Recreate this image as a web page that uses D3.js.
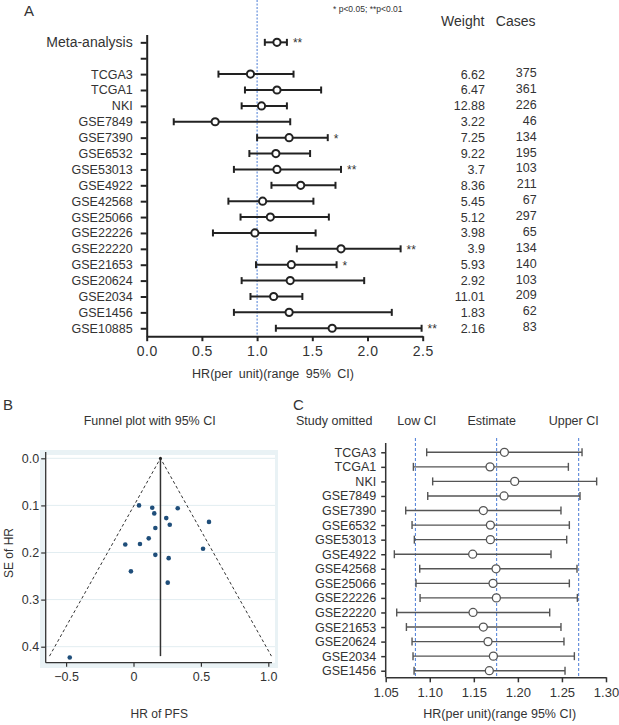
<!DOCTYPE html>
<html><head><meta charset="utf-8">
<script src="https://cdn.jsdelivr.net/npm/d3@7"></script>
<style>
html,body{margin:0;padding:0;background:#fff;}
svg text{font-family:"Liberation Sans",Arial,sans-serif;fill:#333;}
</style></head>
<body>
<svg id="chart" width="619" height="725"></svg>
<script>
// ---------- Panel A data ----------
const studiesA = ["TCGA3","TCGA1","NKI","GSE7849","GSE7390","GSE6532","GSE53013","GSE4922","GSE42568","GSE25066","GSE22226","GSE22220","GSE21653","GSE20624","GSE2034","GSE1456","GSE10885"];
const hrA    = [0.94,1.18,1.04,0.62,1.29,1.17,1.18,1.395,1.05,1.12,0.98,1.76,1.31,1.30,1.15,1.29,1.68];
const lowA   = [0.65,0.89,0.86,0.245,1.00,0.93,0.79,1.13,0.74,0.85,0.60,1.36,0.99,0.86,0.94,0.79,1.17];
const highA  = [1.33,1.58,1.27,1.30,1.64,1.48,1.76,1.71,1.51,1.65,1.53,2.30,1.72,1.97,1.41,2.22,2.49];
const starsA = ["","","","","*","","**","","","","","**","*","","","","**"];
const weights = ["6.62","6.47","12.88","3.22","7.25","9.22","3.7","8.36","5.45","5.12","3.98","3.9","5.93","2.92","11.01","1.83","2.16"];
const cases   = ["375","361","226","46","134","195","103","211","67","297","65","134","140","103","209","62","83"];
const metaA = {label:"Meta-analysis", hr:1.18, low:1.07, high:1.27, star:"**"};
const ticksA = [0,0.5,1.0,1.5,2.0,2.5];

// ---------- Panel B data ----------
const funnelHR = [0.041,0.139,0.328,0.154,0.243,0.560,0.269,0.162,0.113,-0.061,0.048,0.516,0.162,0.261,-0.019,0.254,-0.473];
const funnelSE = [0.100,0.105,0.106,0.117,0.127,0.135,0.141,0.148,0.170,0.183,0.182,0.192,0.205,0.212,0.240,0.264,0.423];
const pooledB = 0.2, maxSEB = 0.42;
const ticksBx = [-0.5,0,0.5,1.0];
const ticksBy = [0,0.1,0.2,0.3,0.4];

// ---------- Panel C data ----------
const studiesC = ["TCGA3","TCGA1","NKI","GSE7849","GSE7390","GSE6532","GSE53013","GSE4922","GSE42568","GSE25066","GSE22226","GSE22220","GSE21653","GSE20624","GSE2034","GSE1456"];
const estC  = [1.1847,1.1684,1.1964,1.1843,1.1608,1.1688,1.1688,1.1487,1.1752,1.1718,1.1756,1.1491,1.1608,1.1661,1.1722,1.1676];
const lowC  = [1.0965,1.0814,1.1033,1.0977,1.0727,1.0799,1.0825,1.0598,1.0886,1.0844,1.0890,1.0625,1.0735,1.0799,1.0810,1.0822];
const highC = [1.2728,1.2573,1.2894,1.2705,1.2489,1.2584,1.2554,1.2376,1.2671,1.2584,1.2675,1.2361,1.2489,1.2523,1.2641,1.2535];
const refC  = [1.0837,1.1759,1.2690];
const headersC = ["Study omitted","Low CI","Estimate","Upper CI"];
const ticksC = [1.05,1.10,1.15,1.20,1.25,1.30];

const svg = d3.select("#chart");
svg.append("rect").attr("width",619).attr("height",725).attr("fill","#fff");
const BLUE = "#4a7cd6";

// ================= PANEL A =================
const gA = svg.append("g");
const rowsA = [metaA.label, " "].concat(studiesA);
const xA = d3.scaleLinear().domain([0,2.5]).range([146.7,422.7]);
const yA = d3.scalePoint().domain(rowsA).range([34.4,336.2]).padding(0.5);

gA.append("text").text("A").attr("x",24).attr("y",15.5).style("font-size","15px");
gA.append("text").text("* p<0.05; **p<0.01").attr("x",333).attr("y",12).style("font-size","8.5px");

// dotted reference line at 1
gA.append("line").attr("x1",xA(1)).attr("x2",xA(1)).attr("y1",0).attr("y2",336)
  .attr("stroke",BLUE).attr("stroke-width",1).attr("stroke-dasharray","2,1.5");

const axL = gA.append("g").attr("transform","translate(146.7,0)")
  .call(d3.axisLeft(yA).tickSize(6).tickSizeOuter(0).tickPadding(8));
axL.select(".domain").attr("stroke","#222").attr("stroke-width",2);
axL.selectAll(".tick line").attr("stroke","#222").attr("stroke-width",2);
axL.selectAll(".tick text").attr("fill","#333")
  .style("font-size",d=>d===metaA.label?"14px":"12.5px");

const axB = gA.append("g").attr("transform","translate(0,336.2)")
  .call(d3.axisBottom(xA).tickValues(ticksA).tickFormat(d3.format(".1f")).tickSize(5).tickSizeOuter(0).tickPadding(5));
axB.select(".domain").attr("stroke","#222").attr("stroke-width",2);
axB.selectAll(".tick line").attr("stroke","#222").attr("stroke-width",2);
axB.selectAll(".tick text").style("font-size","14px").attr("fill","#333").style("letter-spacing","0.5px");

gA.append("text").text("HR(per unit)(range 95% CI)").attr("x",273).attr("y",378)
  .attr("text-anchor","middle").style("font-size","12.5px").style("word-spacing","3px");

const dataA = [{label:metaA.label,hr:metaA.hr,low:metaA.low,high:metaA.high,star:metaA.star}]
  .concat(studiesA.map((s,i)=>({label:s,hr:hrA[i],low:lowA[i],high:highA[i],star:starsA[i]})));
const eA = gA.selectAll(".eb").data(dataA).enter().append("g");
eA.append("line").attr("x1",d=>xA(d.low)).attr("x2",d=>xA(d.high)).attr("y1",d=>yA(d.label)).attr("y2",d=>yA(d.label))
  .attr("stroke","#222").attr("stroke-width",2);
eA.append("line").attr("x1",d=>xA(d.low)).attr("x2",d=>xA(d.low)).attr("y1",d=>yA(d.label)-3.5).attr("y2",d=>yA(d.label)+3.5)
  .attr("stroke","#222").attr("stroke-width",2);
eA.append("line").attr("x1",d=>xA(d.high)).attr("x2",d=>xA(d.high)).attr("y1",d=>yA(d.label)-3.5).attr("y2",d=>yA(d.label)+3.5)
  .attr("stroke","#222").attr("stroke-width",2);
eA.append("circle").attr("cx",d=>xA(d.hr)).attr("cy",d=>yA(d.label)).attr("r",3.6)
  .attr("fill","#fff").attr("stroke","#222").attr("stroke-width",2);
eA.append("text").text(d=>d.star).attr("x",d=>xA(d.high)+6).attr("y",d=>yA(d.label)+5)
  .style("font-size","12px");

// Weight / Cases columns
gA.append("text").text("Weight").attr("x",462.7).attr("y",26).attr("text-anchor","middle").style("font-size","14px");
gA.append("text").text("Cases").attr("x",515.7).attr("y",26).attr("text-anchor","middle").style("font-size","14px");
gA.selectAll(".w").data(studiesA).enter().append("text").text((d,i)=>weights[i])
  .attr("x",485).attr("y",d=>yA(d)+4.5).attr("text-anchor","end").style("font-size","12.5px");
gA.selectAll(".c").data(studiesA).enter().append("text").text((d,i)=>cases[i])
  .attr("x",536.7).attr("y",d=>yA(d)+3).attr("text-anchor","end").style("font-size","12.5px");

// ================= PANEL B =================
const gB = svg.append("g");
const xB = d3.scaleLinear().domain([-0.5,1.0]).range([66.1,268.3]);
const yB = d3.scaleLinear().domain([0,0.4]).range([458.3,646.7]);

gB.append("text").text("B").attr("x",3).attr("y",410).style("font-size","15px");
gB.append("text").text("Funnel plot with 95% CI").attr("x",149.7).attr("y",425).attr("text-anchor","middle").style("font-size","12.5px");

gB.append("rect").attr("x",40).attr("y",450).attr("width",238).attr("height",218).attr("fill","#e9f2f5");
gB.append("rect").attr("x",45.7).attr("y",455).attr("width",229.3).attr("height",207.7).attr("fill","#fff");
gB.selectAll(".grid").data(ticksBy).enter().append("line")
  .attr("x1",45.7).attr("x2",275).attr("y1",d=>yB(d)).attr("y2",d=>yB(d))
  .attr("stroke","#e2edf1").attr("stroke-width",1);

const byAx = gB.append("g").attr("transform","translate(45.7,0)")
  .call(d3.axisLeft(yB).tickValues(ticksBy).tickFormat(d3.format(".1f")).tickSize(4.5).tickSizeOuter(0).tickPadding(2));
byAx.select(".domain").remove();
byAx.selectAll(".tick line").attr("stroke","#333").attr("stroke-width",1.2);
byAx.selectAll(".tick text").style("font-size","12.5px").attr("fill","#333");
gB.append("line").attr("x1",45.7).attr("x2",45.7).attr("y1",452).attr("y2",662.7).attr("stroke","#333").attr("stroke-width",1.3);

const bxAx = gB.append("g").attr("transform","translate(0,662.7)")
  .call(d3.axisBottom(xB).tickValues(ticksBx).tickFormat(d=>d===0?"0":d3.format(".1f")(d)).tickSize(4).tickSizeOuter(0).tickPadding(5));
bxAx.select(".domain").remove();
bxAx.selectAll(".tick line").attr("stroke","#333").attr("stroke-width",1.2);
bxAx.selectAll(".tick text").style("font-size","12.5px").attr("fill","#333");
gB.append("line").attr("x1",45.7).attr("x2",272).attr("y1",662.7).attr("y2",662.7).attr("stroke","#333").attr("stroke-width",1.3);

const funnel = [[pooledB-1.96*maxSEB,maxSEB],[pooledB,0],[pooledB+1.96*maxSEB,maxSEB]];
gB.append("path").attr("d",d3.line().x(d=>xB(d[0])).y(d=>yB(d[1]))(funnel))
  .attr("fill","none").attr("stroke","#333").attr("stroke-width",1).attr("stroke-dasharray","3,2.5");
gB.append("line").attr("x1",xB(pooledB)).attr("x2",xB(pooledB)).attr("y1",yB(0)).attr("y2",yB(maxSEB))
  .attr("stroke","#333").attr("stroke-width",1.5);
gB.append("circle").attr("cx",xB(pooledB)).attr("cy",yB(0)).attr("r",1.5).attr("fill","#222");

gB.selectAll(".pt").data(funnelHR).enter().append("circle")
  .attr("cx",d=>xB(d)).attr("cy",(d,i)=>yB(funnelSE[i])).attr("r",2.3).attr("fill","#1f4e7a");

gB.append("text").text("SE of HR").attr("transform","translate(13,553) rotate(-90)").attr("text-anchor","middle").style("font-size","12px");
gB.append("text").text("HR of PFS").attr("x",159.3).attr("y",718).attr("text-anchor","middle").style("font-size","12px");

// ================= PANEL C =================
const gC = svg.append("g");
const xC = d3.scaleLinear().domain([1.05,1.30]).range([385.7,606]);
const yC = d3.scalePoint().domain(studiesC).range([445,678]).padding(0.5);

gC.append("text").text("C").attr("x",293).attr("y",410).style("font-size","15px");
const hx = [296,416.8,491.7,573.7], ha = ["start","middle","middle","middle"];
gC.selectAll(".hdr").data(headersC).enter().append("text").text(d=>d)
  .attr("x",(d,i)=>hx[i]).attr("y",425).attr("text-anchor",(d,i)=>ha[i]).style("font-size","12.5px");

gC.selectAll(".ref").data(refC).enter().append("line")
  .attr("x1",d=>xC(d)).attr("x2",d=>xC(d)).attr("y1",438).attr("y2",677)
  .attr("stroke",BLUE).attr("stroke-width",1).attr("stroke-dasharray","3,2");

const cyAx = gC.append("g").attr("transform","translate(385.7,0)")
  .call(d3.axisLeft(yC).tickSize(4.5).tickSizeOuter(0).tickPadding(5));
cyAx.select(".domain").remove();
cyAx.selectAll(".tick line").attr("stroke","#333").attr("stroke-width",1.5);
cyAx.selectAll(".tick text").style("font-size","12.5px").attr("fill","#333");
gC.append("line").attr("x1",385.7).attr("x2",385.7).attr("y1",443).attr("y2",677.3).attr("stroke","#333").attr("stroke-width",1.5);

const cxAx = gC.append("g").attr("transform","translate(0,677.3)")
  .call(d3.axisBottom(xC).tickValues(ticksC).tickFormat(d3.format(".2f")).tickSize(5).tickSizeOuter(0).tickPadding(5));
cxAx.select(".domain").attr("stroke","#333").attr("stroke-width",1.5);
cxAx.selectAll(".tick line").attr("stroke","#333").attr("stroke-width",1.5);
cxAx.selectAll(".tick text").style("font-size","13px").attr("fill","#333");

gC.append("text").text("HR(per unit)(range 95% CI)").attr("x",499.7).attr("y",718)
  .attr("text-anchor","middle").style("font-size","12.5px");

const dataC = studiesC.map((s,i)=>({label:s,est:estC[i],low:lowC[i],high:highC[i]}));
const eC = gC.selectAll(".ec").data(dataC).enter().append("g");
eC.append("line").attr("x1",d=>xC(d.low)).attr("x2",d=>xC(d.high)).attr("y1",d=>yC(d.label)).attr("y2",d=>yC(d.label))
  .attr("stroke","#555").attr("stroke-width",1.4);
eC.append("line").attr("x1",d=>xC(d.low)).attr("x2",d=>xC(d.low)).attr("y1",d=>yC(d.label)-4).attr("y2",d=>yC(d.label)+4)
  .attr("stroke","#555").attr("stroke-width",1.4);
eC.append("line").attr("x1",d=>xC(d.high)).attr("x2",d=>xC(d.high)).attr("y1",d=>yC(d.label)-4).attr("y2",d=>yC(d.label)+4)
  .attr("stroke","#555").attr("stroke-width",1.4);
eC.append("circle").attr("cx",d=>xC(d.est)).attr("cy",d=>yC(d.label)).attr("r",4)
  .attr("fill","#fff").attr("stroke","#555").attr("stroke-width",1.3);
</script>
</body></html>
